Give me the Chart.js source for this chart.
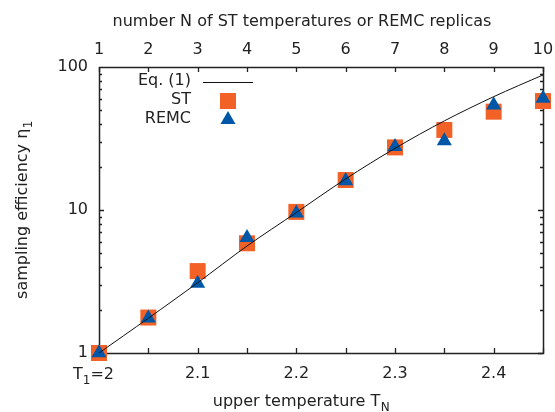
<!DOCTYPE html>
<html lang="en">
<head>
    <meta charset="UTF-8">
    <title>Sampling efficiency vs upper temperature</title>
    <script src="https://cdn.jsdelivr.net/npm/chart.js"></script>
    <style>
        html, body { margin: 0; padding: 0; background: #fff; }
        #wrap { width: 555px; height: 412px; }
    </style>
</head>
<body>
    <div id="wrap"><canvas id="chart"></canvas></div>

    <script>
        // values
        const replicas = [1, 2, 3, 4, 5, 6, 7, 8, 9, 10];
        const upperTemps = [2.0, 2.05, 2.1, 2.15, 2.2, 2.25, 2.3, 2.35, 2.4, 2.45];
        const eqOne = [1, 1.75, 3.1, 5.6, 9.6, 16.5, 27, 42, 62, 88];
        const stValues = [1.0, 1.77, 3.74, 5.85, 9.7, 16.2, 27.4, 36.3, 48.7, 57.8];
        const remcValues = [1.0, 1.75, 3.07, 6.4, 9.5, 16.0, 27.7, 30.4, 54.2, 60.3];
        const yLabels = [1, 10, 100];

        const FONT = '"DejaVu Sans", sans-serif';
        const INK = '#222';
        const ORANGE = '#F26125';
        const BLUE = '#0057A8';

        const toPoints = vals => upperTemps.map((t, i) => ({ x: t, y: vals[i] }));

        // fixed box sizes so the plot area lands where the reference has it
        const fitBox = (w, h) => s => {
            if (w !== null) s.width = w;
            if (h !== null) s.height = h;
            s.paddingLeft = 0; s.paddingRight = 0;
            s.paddingTop = 0; s.paddingBottom = 0;
        };

        // frame + inward tick marks, drawn under the markers
        const framePlugin = {
            id: 'frame',
            beforeDatasetsDraw(chart) {
                const { ctx, chartArea: a, scales } = chart;
                ctx.save();
                ctx.strokeStyle = INK;
                ctx.lineWidth = 1.3;
                ctx.beginPath();
                upperTemps.forEach(t => {
                    const px = Math.round(scales.x.getPixelForValue(t)) + 0.5;
                    ctx.moveTo(px, a.bottom); ctx.lineTo(px, a.bottom - 5);
                });
                replicas.forEach(n => {
                    const px = Math.round(scales.x2.getPixelForValue(n)) + 0.5;
                    ctx.moveTo(px, a.top); ctx.lineTo(px, a.top + 5);
                });
                [1, 10].forEach(dec => {
                    for (let k = 1; k <= 9; k++) {
                        const v = dec * k;
                        const py = Math.round(scales.y.getPixelForValue(v)) + 0.5;
                        const len = k === 1 ? 5 : 3;
                        ctx.moveTo(a.left, py); ctx.lineTo(a.left + len, py);
                        ctx.moveTo(a.right, py); ctx.lineTo(a.right - len, py);
                    }
                });
                ctx.stroke();
                ctx.lineWidth = 1.5;
                ctx.strokeRect(Math.round(a.left) + 0.5, Math.round(a.top) + 0.5,
                    Math.round(a.right - a.left), Math.round(a.bottom - a.top));
                ctx.restore();
            }
        };

        function subText(ctx, main, sub, x, y, size, subSize) {
            ctx.font = size + 'px ' + FONT;
            const w1 = ctx.measureText(main).width;
            ctx.font = subSize + 'px ' + FONT;
            const w2 = ctx.measureText(sub).width;
            const x0 = x - (w1 + w2) / 2;
            ctx.textAlign = 'left';
            ctx.font = size + 'px ' + FONT;
            ctx.fillText(main, x0, y);
            ctx.font = subSize + 'px ' + FONT;
            ctx.fillText(sub, x0 + w1 + 0.5, y + 5);
        }

        // axis titles with subscripts, the T1=2 label and the gnuplot-style key
        const textPlugin = {
            id: 'texts',
            afterDraw(chart) {
                const { ctx, scales } = chart;
                ctx.save();
                ctx.fillStyle = INK;
                ctx.textBaseline = 'alphabetic';

                ctx.font = '16px ' + FONT;
                ctx.textAlign = 'center';
                ctx.fillText('number N of ST temperatures or REMC replicas', 302, 26);

                subText(ctx, 'upper temperature T', 'N', 301, 406, 16, 12);

                ctx.save();
                ctx.translate(27, 210);
                ctx.rotate(-Math.PI / 2);
                subText(ctx, 'sampling efficiency \u03b7', '1', 0, 0, 16, 12);
                ctx.restore();

                // first bottom tick label: T with subscript 1, "=2"
                const x0 = scales.x.getPixelForValue(upperTemps[0]) - 26;
                ctx.textAlign = 'left';
                ctx.font = '16px ' + FONT;
                ctx.fillText('T', x0, 379);
                let w = ctx.measureText('T').width;
                ctx.font = '12px ' + FONT;
                ctx.fillText('1', x0 + w, 384);
                w += ctx.measureText('1').width;
                ctx.font = '16px ' + FONT;
                ctx.fillText('=2', x0 + w, 379);

                // key
                ctx.font = '16px ' + FONT;
                ctx.textAlign = 'right';
                ctx.textBaseline = 'middle';
                ctx.fillText('Eq. (1)', 191, 81);
                ctx.fillText('ST', 191, 100);
                ctx.fillText('REMC', 191, 119);

                ctx.strokeStyle = '#111';
                ctx.lineWidth = 1;
                ctx.beginPath();
                ctx.moveTo(203, 82.5); ctx.lineTo(253, 82.5);
                ctx.stroke();

                ctx.fillStyle = ORANGE;
                ctx.fillRect(220, 93, 16, 16);
                ctx.fillStyle = BLUE;
                ctx.beginPath();
                ctx.moveTo(228, 111); ctx.lineTo(235.5, 124); ctx.lineTo(220.5, 124);
                ctx.closePath();
                ctx.fill();
                ctx.restore();
            }
        };

        new Chart(document.getElementById('chart'), {
            type: 'scatter',
            data: {
                datasets: [
                    {
                        label: 'Eq. (1)',
                        type: 'line',
                        data: toPoints(eqOne),
                        borderColor: '#111',
                        borderWidth: 1,
                        pointRadius: 0,
                        tension: 0.3,
                        fill: false,
                        clip: false,
                        order: 0
                    },
                    {
                        label: 'REMC',
                        data: toPoints(remcValues),
                        pointStyle: 'triangle',
                        pointRadius: 8.7,
                        backgroundColor: BLUE,
                        borderColor: BLUE,
                        borderWidth: 0,
                        clip: false,
                        order: 1
                    },
                    {
                        label: 'ST',
                        data: toPoints(stValues),
                        pointStyle: 'rect',
                        pointRadius: 11.3,
                        backgroundColor: ORANGE,
                        borderColor: ORANGE,
                        borderWidth: 0,
                        clip: false,
                        order: 2
                    }
                ]
            },
            options: {
                responsive: true,
                maintainAspectRatio: false,
                animation: false,
                layout: { padding: 0 },
                plugins: {
                    legend: { display: false },
                    tooltip: { enabled: false }
                },
                scales: {
                    x: {
                        type: 'linear',
                        position: 'bottom',
                        min: 2.0,
                        max: 2.45,
                        afterFit: fitBox(null, 59),
                        grid: { display: false, drawTicks: false },
                        border: { display: false },
                        ticks: {
                            stepSize: 0.05,
                            autoSkip: false,
                            maxRotation: 0,
                            padding: 11,
                            color: INK,
                            font: { family: FONT, size: 16 },
                            callback: v => {
                                const h = Math.round(v * 100);
                                if (h === 200) return '';
                                return h % 10 === 0 ? (h / 100).toFixed(1) : '';
                            }
                        }
                    },
                    x2: {
                        type: 'linear',
                        position: 'top',
                        min: 1,
                        max: 10,
                        afterFit: fitBox(null, 67),
                        grid: { display: false, drawTicks: false },
                        border: { display: false },
                        ticks: {
                            stepSize: 1,
                            autoSkip: false,
                            maxRotation: 0,
                            padding: 8,
                            color: INK,
                            font: { family: FONT, size: 16 }
                        }
                    },
                    y: {
                        type: 'logarithmic',
                        position: 'left',
                        min: 1,
                        max: 100,
                        afterFit: fitBox(99, null),
                        grid: { display: false, drawTicks: false },
                        border: { display: false },
                        ticks: {
                            autoSkip: false,
                            padding: 11,
                            color: INK,
                            font: { family: FONT, size: 16 },
                            callback: v => yLabels.includes(v) ? String(v) : ''
                        }
                    },
                    y2: {
                        type: 'logarithmic',
                        position: 'right',
                        min: 1,
                        max: 100,
                        afterFit: fitBox(12, null),
                        grid: { display: false, drawTicks: false },
                        border: { display: false },
                        ticks: { display: false }
                    }
                }
            },
            plugins: [framePlugin, textPlugin]
        });
    </script>
</body>
</html>
